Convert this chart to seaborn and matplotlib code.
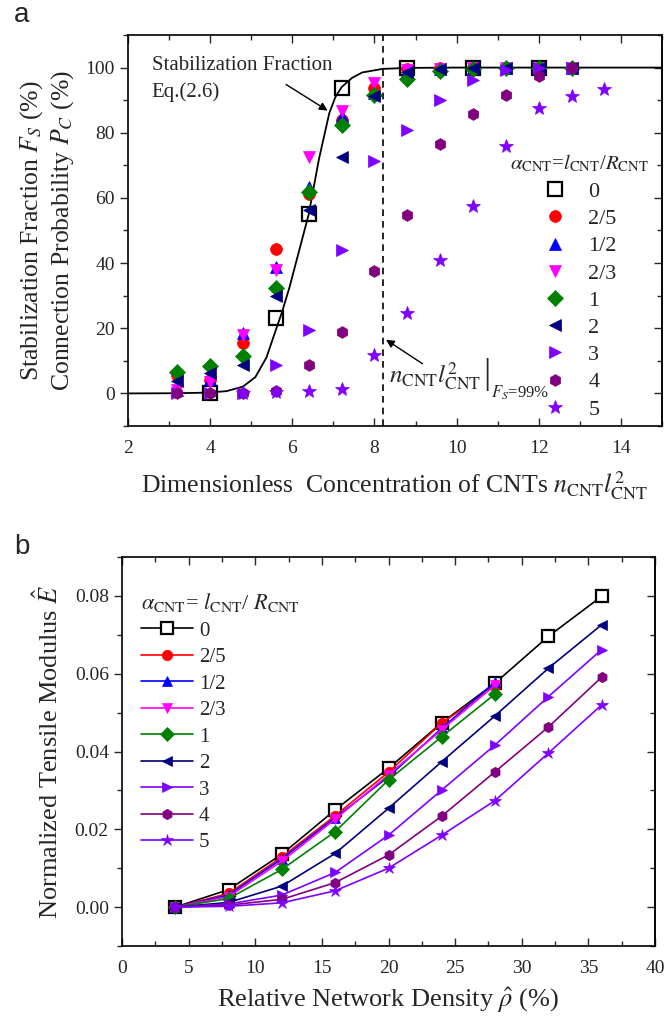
import numpy as np
import pandas as pd
import matplotlib
matplotlib.use("Agg")
import matplotlib.pyplot as plt
from matplotlib.ticker import MultipleLocator
import seaborn as sns

sns.set_theme(style="ticks")
plt.rcParams["font.family"] = ["Liberation Serif", "DejaVu Serif"]
plt.rcParams["mathtext.fontset"] = "stix"

# ---------------- Panel a data ----------------
labels = ["0", "2/5", "1/2", "2/3", "1", "2", "3", "4", "5"]
colors = ["black", "#FF0000", "#0000FF", "#FF00FF", "#008000", "#000080", "#8000FF", "#800080", "#8000FF"]
markers = ["s", "o", "^", "v", "D", "<", ">", "h", "*"]

xa_sq = [4.0, 5.6, 6.4, 7.2, 8.8, 10.4, 12.0]
ya_sq = [0.0, 23.2, 55.0, 93.7, 100.0, 100.0, 100.0]
xa_main = [3.2, 4.0, 4.8, 5.6, 6.4, 7.2, 8.0, 8.8, 9.6, 10.4, 11.2, 12.0, 12.8]
ya_25 = [5.5, 4.0, 15.5, 44.2, 61.2, 84.0, 93.7, 99.5, 99.8, 100, 100, 100, 100]
ya_12 = [1.0, 4.5, 18.4, 38.9, 63.5, 85.0, 92.2, 99.0, 99.6, 100, 100, 100, 100]
ya_23 = [0.9, 3.5, 17.9, 37.8, 72.5, 86.8, 95.3, 99.2, 99.7, 100, 100, 100, 100]
ya_1 = [6.6, 8.3, 11.6, 32.5, 61.9, 82.5, 91.5, 96.5, 98.9, 99.6, 100, 100, 100]
ya_2 = [3.8, 6.3, 8.6, 29.8, 56.3, 72.5, 91.2, 98.7, 99.5, 100, 100, 100, 100]
ya_3 = [0.0, 0.0, 0.2, 8.6, 19.6, 44.0, 71.2, 80.7, 90.2, 96.3, 99.2, 100, 100]
ya_4 = [0.0, 0.0, 0.0, 0.7, 8.6, 18.9, 37.6, 54.8, 76.6, 85.8, 91.5, 97.5, 100]
xa_star = [4.8, 5.6, 6.4, 7.2, 8.0, 8.8, 9.6, 10.4, 11.2, 12.0, 12.8, 13.6]
ya_5 = [0.0, 0.5, 0.7, 1.4, 11.7, 24.8, 40.9, 57.6, 75.8, 87.6, 91.4, 93.5]

# Eq.(2.6) curve
curve_x = [2.0, 3.0, 3.6, 4.0, 4.4, 4.8, 5.1, 5.37, 5.6, 5.75, 5.93, 6.17, 6.4,
           6.65, 6.9, 7.05, 7.2, 7.45, 7.7, 8.2, 8.8, 10.0, 12.0, 15.0]
curve_y = [0.0, 0.05, 0.15, 0.3, 0.7, 2.1, 5.0, 11.0, 19.5, 25.0, 32.5, 44.0, 55.0,
           72.0, 86.0, 91.0, 94.0, 96.8, 98.5, 99.6, 99.9, 100.0, 100.0, 100.0]
x_99 = 8.2

# ---------------- Panel b data ----------------
xb_full = [4, 8, 12, 16, 20, 24, 28, 32, 36]
xb_short = [4, 8, 12, 16, 20, 24, 28]
E_0 = [0, 0.0045, 0.0136, 0.0250, 0.0357, 0.0474, 0.0576, 0.0696, 0.0799]
E_25 = [0, 0.0035, 0.0129, 0.0235, 0.0347, 0.0473, 0.0569]
E_12 = [0, 0.0031, 0.0124, 0.0230, 0.0335, 0.0460, 0.0578]
E_23 = [0, 0.0027, 0.0118, 0.0226, 0.0340, 0.0456, 0.0571]
E_1 = [0, 0.0022, 0.0097, 0.0194, 0.0327, 0.0438, 0.0548]
E_2 = [0, 0.0012, 0.0054, 0.0138, 0.0254, 0.0374, 0.0492, 0.0614, 0.0726]
E_3 = [0, 0.0008, 0.0031, 0.0089, 0.0185, 0.0301, 0.0417, 0.0541, 0.0662]
E_4 = [0, 0.0005, 0.0020, 0.0063, 0.0134, 0.0234, 0.0348, 0.0463, 0.0591]
E_5 = [0, 0.0002, 0.0011, 0.0042, 0.0100, 0.0185, 0.0274, 0.0396, 0.0520]

series_a = [(xa_sq, ya_sq), (xa_main, ya_25), (xa_main, ya_12), (xa_main, ya_23),
            (xa_main, ya_1), (xa_main, ya_2), (xa_main, ya_3), (xa_main, ya_4),
            (xa_star, ya_5)]
series_b = [(xb_full, E_0), (xb_short, E_25), (xb_short, E_12), (xb_short, E_23),
            (xb_short, E_1), (xb_full, E_2), (xb_full, E_3), (xb_full, E_4),
            (xb_full, E_5)]
msize_a = [9.5, 8.5, 8.5, 8.5, 8, 8.5, 8.5, 8.5, 10]
msize_b = [9, 7.5, 7.5, 7.5, 7, 7.5, 7.5, 7.5, 9]

fig = plt.figure(figsize=(6.64, 10.16), dpi=100)
W, H = 664, 1016
axa = fig.add_axes([128 / W, 1 - 426 / H, (662 - 128) / W, (426 - 35) / H])
axb = fig.add_axes([122 / W, 1 - 946 / H, (655 - 122) / W, (946 - 557) / H])

TICK = 14
LAB = 18.5

def style_axes(ax):
    for s in ax.spines.values():
        s.set_linewidth(1.2)
        s.set_color("black")
    ax.tick_params(axis="x", which="both", direction="in", top=True, bottom=True,
                   labelsize=TICK, width=1.0, pad=10)
    ax.tick_params(axis="y", which="both", direction="out", left=True, right=False,
                   labelsize=TICK, width=1.0)
    ax.tick_params(which="major", length=6)
    ax.tick_params(which="minor", length=3.5)
    sec = ax.secondary_yaxis("right")
    sec.tick_params(axis="y", which="both", direction="in", labelright=False, width=1.0)
    sec.tick_params(which="major", length=6)
    sec.tick_params(which="minor", length=3.5)
    return sec

# ---------------- Panel a ----------------
sns.lineplot(x=curve_x, y=curve_y, ax=axa, color="black", lw=1.3, sort=False,
             errorbar=None)
axa.axvline(x_99, color="black", lw=1.2, ls=(0, (4, 3)))
for (xs, ys), lab, c, m, ms in zip(series_a, labels, colors, markers, msize_a):
    if lab == "0":
        sns.lineplot(x=xs, y=ys, ax=axa, linestyle="", marker=m, markersize=ms,
                     markerfacecolor="none", markeredgecolor=c, markeredgewidth=1.6,
                     color=c, label=lab, sort=False, errorbar=None)
    else:
        sns.lineplot(x=xs, y=ys, ax=axa, linestyle="", marker=m, markersize=ms,
                     markerfacecolor=c, markeredgecolor=c, markeredgewidth=0.5,
                     color=c, label=lab, sort=False, errorbar=None)

axa.set_xlim(2, 15)
axa.set_ylim(-10, 110)
axa.xaxis.set_major_locator(MultipleLocator(2))
axa.xaxis.set_minor_locator(MultipleLocator(1))
axa.yaxis.set_major_locator(MultipleLocator(20))
axa.yaxis.set_minor_locator(MultipleLocator(10))
seca = style_axes(axa)
seca.yaxis.set_major_locator(MultipleLocator(20))
seca.yaxis.set_minor_locator(MultipleLocator(10))
axa.set_xticks([2, 4, 6, 8, 10, 12, 14])

axa.set_xlabel(r"Dimensionless  Concentration of CNTs $n_{\rm CNT}l^2_{\rm CNT}$",
               fontsize=LAB, labelpad=9)
axa.set_ylabel("Stabilization Fraction $F_S$ (%)\nConnection Probability $P_C$ (%)",
               fontsize=LAB, linespacing=1.2)
axa.yaxis.set_label_coords(-0.097, 0.5)

handles, labs = axa.get_legend_handles_labels()
leg = axa.legend(handles, labs, title=r"$\alpha_{\rm CNT}$=$l_{\rm CNT}$/$R_{\rm CNT}$",
                 loc="lower right", bbox_to_anchor=(1.0, -0.018), frameon=False,
                 fontsize=16, title_fontsize=15, labelspacing=0.3,
                 handletextpad=0.9, handlelength=1.2, borderaxespad=0.2)

axa.text(2.58, 103.5, "Stabilization Fraction\nEq.(2.6)", fontsize=15, ha="left",
         va="top", linespacing=1.45)
axa.annotate("", xy=(6.86, 86.8), xytext=(5.85, 94.8),
             arrowprops=dict(arrowstyle="-|>", color="black", lw=1.0,
                             mutation_scale=12, shrinkA=0, shrinkB=0))
axa.annotate("", xy=(8.28, 16.5), xytext=(9.17, 9.1),
             arrowprops=dict(arrowstyle="-|>", color="black", lw=1.0,
                             mutation_scale=12, shrinkA=0, shrinkB=0))

# ---------------- Panel b ----------------
for (xs, ys), lab, c, m, ms in zip(series_b, labels, colors, markers, msize_b):
    if lab == "0":
        sns.lineplot(x=xs, y=ys, ax=axb, color=c, lw=1.2, marker=m, markersize=ms,
                     markerfacecolor="white", markeredgecolor=c, markeredgewidth=1.6,
                     label=lab, sort=False, errorbar=None)
    else:
        sns.lineplot(x=xs, y=ys, ax=axb, color=c, lw=1.2, marker=m, markersize=ms,
                     markerfacecolor=c, markeredgecolor=c, markeredgewidth=0.5,
                     label=lab, sort=False, errorbar=None)

axb.set_xlim(0, 40)
axb.xaxis.set_major_locator(MultipleLocator(5))
axb.xaxis.set_minor_locator(MultipleLocator(2.5))
axb.yaxis.set_major_locator(MultipleLocator(0.02))
axb.yaxis.set_minor_locator(MultipleLocator(0.01))
secb = style_axes(axb)
secb.yaxis.set_major_locator(MultipleLocator(0.02))
secb.yaxis.set_minor_locator(MultipleLocator(0.01))
axb.set_yticks([0, 0.02, 0.04, 0.06, 0.08])
axb.set_yticklabels(["0.00", "0.02", "0.04", "0.06", "0.08"])
axb.set_ylim(-0.01, 0.09)

axb.set_xlabel(r"Relative Network Density $\hat{\rho}$ (%)", fontsize=19, labelpad=6)
axb.set_ylabel(r"Normalized Tensile Modulus $\hat{E}$", fontsize=19)
axb.yaxis.set_label_coords(-0.111, 0.5)

handles, labs = axb.get_legend_handles_labels()
legb = axb.legend(handles, labs, title=r"$\alpha_{\rm CNT}$= $l_{\rm CNT}$/ $R_{\rm CNT}$",
                  loc="upper left", bbox_to_anchor=(0.0, 0.96), frameon=False,
                  fontsize=15, title_fontsize=16, labelspacing=0.33,
                  handletextpad=0.3, handlelength=2.5, borderaxespad=0.5,
                  alignment="left")

fig.text(0.033, 0.985, "a", family="Liberation Sans", fontsize=20, ha="center", va="center")
fig.text(0.033, 0.4616, "b", family="Liberation Sans", fontsize=20, ha="center", va="center")

# value label n_CNT l^2_CNT |_{F_S=99%}, built from three text pieces
t_main = axa.text(8.36, 3.1, r"$n_{\rm CNT}l^2_{\rm CNT}$", fontsize=18,
                  ha="left", va="baseline")
fig.canvas.draw()
renderer = fig.canvas.get_renderer()
bb = t_main.get_window_extent(renderer)
base_disp = axa.transData.transform((8.36, 3.1))
inv = axa.transAxes.inverted()
bar_pos = inv.transform((bb.x1 + 1.5, base_disp[1]))
t_bar = axa.text(bar_pos[0], bar_pos[1], "|", fontsize=26, ha="left", va="baseline",
                 transform=axa.transAxes)
fig.canvas.draw()
bb2 = t_bar.get_window_extent(renderer)
sub_pos = inv.transform((bb2.x1 + 0.5, base_disp[1] - 14))
axa.text(sub_pos[0], sub_pos[1], r"$F_S$=99%", fontsize=12, ha="left", va="baseline",
         transform=axa.transAxes)

fig.savefig("out.png", dpi=100)
